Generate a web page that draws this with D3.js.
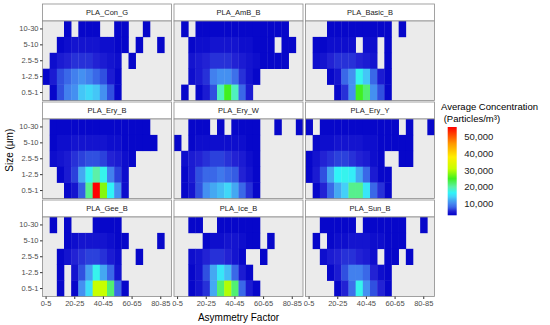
<!DOCTYPE html>
<html>
<head>
<meta charset="utf-8">
<script src="https://cdn.jsdelivr.net/npm/d3@7"></script>
<style>
  body { margin: 0; background: #fff; }
  text { font-family: "Liberation Sans", Arial, sans-serif; }
</style>
</head>
<body>
<svg width="550" height="325"></svg>
<script>
// size classes, bottom to top
const sizeBins = ["0.5-1", "1-2.5", "2.5-5", "5-10", "10-30"];
// asymmetry factor classes
const asymBins = ["0-5", "5-10", "10-15", "15-20", "20-25", "25-30", "30-35", "35-40", "40-45",
  "45-50", "50-55", "55-60", "60-65", "65-70", "70-75", "75-80", "80-85", "85-90"];
const xTicks = ["0-5", "20-25", "40-45", "60-65", "80-85"];
const legendTicks = [10000, 20000, 30000, 40000, 50000];
const panelNames = ["PLA_Con_G", "PLA_AmB_B", "PLA_Basic_B", "PLA_Ery_B", "PLA_Ery_W",
  "PLA_Ery_Y", "PLA_Gee_B", "PLA_Ice_B", "PLA_Sun_B"];

// average concentration in thousands of particles/m3
// rows go from 10-30 (top) down to 0.5-1, 0 means no tile
const conG = [
  [0,0,0,3.5,0,3.5,3.5,3.5,0,0,3.5,3.5,0,0,3.5,0,0,0],
  [0,0,3.5,4,4.5,4.5,4.5,4.5,4,4,3.5,3.5,0,3.5,0,0,3.5,0],
  [0,4,5,5.5,6,6,6,5.5,5,4.5,4,0,3.5,0,0,0,0,0],
  [3.5,5,7,8,9.5,10.5,9.5,8,7,5,3.5,0,0,0,0,0,0,0],
  [0,3.5,7,9.5,10.5,13.5,14.5,13.5,10.5,7,3.5,0,0,0,0,0,0,0]
];
const ambB = [
  [0,3.5,0,3.5,3.5,3.5,3.5,3.5,3.5,3.5,3.5,3.5,3.5,3.5,3.5,3.5,0,0],
  [0,0,3.5,4,4,4.5,4.5,4.5,4.5,4,4,3.5,3.5,3.5,0,3.5,3.5,0],
  [0,0,4.5,5,5.5,6,6,6,5.5,5,4.5,4,3.5,3.5,3.5,3.5,0,0],
  [0,0,4,5,6,9.5,10.5,10.5,8.5,6,4.5,3.5,0,0,0,0,0,0],
  [0,3.5,0,3.5,5,7,19,25,19,8,5,0,0,0,0,0,0,0]
];
const basicB = [
  [0,0,0,3.5,3.5,3.5,3.5,3.5,3.5,3.5,3.5,3.5,0,3.5,0,0,0,0],
  [0,3.5,3.5,4,4,4,4,0,4,4,0,3.5,0,0,0,0,0,0],
  [0,4,4.5,5.5,6,6,6,5.5,5,4.5,0,3.5,0,0,0,0,0,0],
  [0,0,0,3.5,4.5,8,10.5,17,13.5,8,5,3.5,0,0,0,0,0,0],
  [0,0,0,0,3.5,6,10.5,25,22,10.5,7,3.5,0,0,0,0,0,0]
];
const eryB = [
  [0,3.5,3.5,3.5,3.5,3.5,3.5,3.5,3.5,3.5,3.5,3.5,3.5,3.5,3.5,0,0,0],
  [0,3.5,4,4,4.5,4.5,4.5,4.5,4.5,4,4,3.5,3.5,3.5,3.5,3.5,0,0],
  [0,4,4.5,5,6,6.5,7,7,6.5,5.5,5,4,3.5,0,0,0,0,0],
  [0,0,3.5,5,6.5,12,17,20,17,9.5,6.5,4,0,0,0,0,0,0],
  [0,0,0,3.5,4.5,7.5,21,56,28,16.5,10.5,4,0,0,0,0,0,0]
];
const eryW = [
  [0,0,3.5,3.5,3.5,0,3.5,0,3.5,3.5,3.5,3.5,0,0,3.5,0,0,3.5],
  [3.5,0,3.5,4,4,4,4,4,4,4,3.5,3.5,0,0,0,0,0,0],
  [0,4,5,5.5,6,6.5,6.5,6,5.5,5,4,3.5,0,0,0,0,0,0],
  [0,3.5,5,7,8,8,9,8,7.5,5.5,4.5,3.5,0,0,0,0,0,0],
  [0,3.5,4.5,7,10.5,12,13,14.5,12,8,6,3.5,0,0,0,0,0,0]
];
const eryY = [
  [3.5,0,3.5,3.5,3.5,3.5,3.5,3.5,3.5,3.5,3.5,3.5,3.5,0,3.5,0,0,3.5],
  [0,3.5,4,4,4.5,4.5,4.5,4.5,4,4,3.5,3.5,3.5,3.5,3.5,0,0,0],
  [3.5,4.5,5.5,6,6.5,6.5,6,5.5,5,4,3.5,0,0,3.5,3.5,0,0,0],
  [3.5,5,7,12,16.5,17,16,12,8,5,3.5,3.5,0,0,0,0,0,0],
  [0,3.5,5.5,8,12,14,21,21,15.5,8,6,3.5,0,0,0,0,0,0]
];
const geeB = [
  [0,3.5,0,3.5,0,0,0,3.5,3.5,3.5,3.5,0,0,0,0,0,0,0],
  [0,0,0,3.5,4,4.5,4.5,4.5,4.5,4,3.5,3.5,0,0,0,0,3.5,0],
  [0,0,3.5,4.5,5.5,6,6.5,6.5,6,5,4,0,0,3.5,0,0,0,0],
  [0,0,3.5,0,4.5,7,11.5,17,12,8,4.5,0,0,0,0,0,0,0],
  [0,0,3.5,0,3.5,10.5,15,31,31,22,8,3.5,0,0,0,0,0,0]
];
const iceB = [
  [0,0,3.5,3.5,0,0,3.5,3.5,3.5,3.5,3.5,3.5,0,0,0,0,0,0],
  [0,0,0,0,3.5,4,4,4.5,4.5,4,3.5,3.5,0,3.5,0,0,0,0],
  [0,0,4,4.5,5.5,6,6,5.5,4.5,3.5,0,0,3.5,0,0,0,0,0],
  [0,0,3.5,4.5,7,12,15.5,13,8,5,3.5,0,0,0,0,0,0,0],
  [0,0,3.5,4.5,6,12,22,30,22,8,5,3.5,0,0,0,0,0,0]
];
const sunB = [
  [0,0,3.5,3.5,3.5,3.5,3.5,0,3.5,3.5,3.5,3.5,3.5,3.5,0,0,3.5,0],
  [0,3.5,0,3.5,4,4,4.5,4.5,4.5,4,4,3.5,3.5,3.5,0,0,0,0],
  [0,0,4,5,5.5,6,6,5.5,5,4,0,3.5,3.5,0,3.5,0,0,0],
  [0,0,0,3.5,5,7,9.5,9.5,8,5.5,4,3.5,0,0,0,0,0,0],
  [0,0,0,0,3.5,5.5,8.5,17,10.5,7,5.5,3.5,0,0,0,0,0,0]
];
const panelData = [conG, ambB, basicB, eryB, eryW, eryY, geeB, iceB, sunB];

const svg = d3.select("svg");

// layout of the 3x3 facets
const colX = [42.5, 174, 305.5];
const rowY = [4, 102, 200];
const stripH = 17, panelW = 129, panelH = 79.5;

const x = d3.scaleBand().domain(asymBins).range([0, panelW]);
const y = d3.scaleBand().domain(sizeBins.slice().reverse()).range([0, panelH]);

const color = d3.scaleLinear()
  .domain([3, 5.5, 7, 8, 10, 12, 14, 16.5, 20, 25, 31, 38, 46, 56])
  .range(["#0000c8", "#2222d4", "#3050e0", "#3a68e8", "#4488f0", "#44a8f2", "#44d0f8",
    "#30f4f8", "#5cf0a8", "#40f020", "#c8ff00", "#ffee00", "#ff9900", "#ff0000"])
  .clamp(true);

panelNames.forEach((name, i) => {
  const c = i % 3, r = Math.floor(i / 3);
  const g = svg.append("g").attr("transform", `translate(${colX[c]},${rowY[r]})`);

  g.append("rect")
    .attr("width", panelW).attr("height", stripH)
    .attr("fill", "#fff").attr("stroke", "#8c8c8c").attr("stroke-width", 0.8);
  g.append("text")
    .attr("x", panelW / 2).attr("y", stripH / 2 + 2.7)
    .attr("text-anchor", "middle").attr("font-size", 7.5).attr("fill", "#1a1a1a")
    .text(name);

  const p = g.append("g").attr("transform", `translate(0,${stripH})`);
  p.append("rect")
    .attr("width", panelW).attr("height", panelH)
    .attr("fill", "#ebebeb");

  const cells = [];
  panelData[i].forEach((row, ri) => {
    row.forEach((v, ci) => {
      if (v > 0) cells.push({ size: sizeBins[4 - ri], asym: asymBins[ci], value: v });
    });
  });

  p.selectAll("rect.tile")
    .data(cells)
    .enter()
    .append("rect")
    .attr("class", "tile")
    .attr("x", d => x(d.asym))
    .attr("y", d => y(d.size))
    .attr("width", x.bandwidth() + 0.3)
    .attr("height", y.bandwidth() + 0.3)
    .attr("fill", d => color(d.value));

  p.append("rect")
    .attr("width", panelW).attr("height", panelH)
    .attr("fill", "none").attr("stroke", "#8c8c8c").attr("stroke-width", 0.8);

  if (c === 0) {
    const ya = p.append("g").call(d3.axisLeft(y).tickSize(2.5).tickPadding(1.5));
    ya.select(".domain").remove();
    ya.selectAll("line").attr("stroke", "#333");
    ya.selectAll("text").attr("font-size", 7.5).attr("fill", "#4d4d4d")
      .style("font-family", '"Liberation Sans", Arial, sans-serif');
  }
  if (r === 2) {
    const xa = p.append("g")
      .attr("transform", `translate(0,${panelH})`)
      .call(d3.axisBottom(x).tickValues(xTicks).tickSize(2.5).tickPadding(1.5));
    xa.select(".domain").remove();
    xa.selectAll("line").attr("stroke", "#333");
    xa.selectAll("text").attr("font-size", 7.5).attr("fill", "#4d4d4d")
      .style("font-family", '"Liberation Sans", Arial, sans-serif');
  }
});

// axis titles
svg.append("text")
  .attr("x", (colX[0] + colX[2] + panelW) / 2).attr("y", 320.5)
  .attr("text-anchor", "middle").attr("font-size", 10).attr("fill", "#000")
  .text("Asymmetry Factor");
svg.append("text")
  .attr("transform", `translate(12.5,${(rowY[0] + rowY[2] + stripH + panelH) / 2}) rotate(-90)`)
  .attr("text-anchor", "middle").attr("font-size", 10).attr("fill", "#000")
  .text("Size (\u03bcm)");

// legend
const leg = svg.append("g");
leg.append("text").attr("x", 441).attr("y", 109.5).attr("font-size", 9.5).attr("fill", "#000")
  .text("Average Concentration");
leg.append("text").attr("x", 441).attr("y", 121.5).attr("font-size", 9.5).attr("fill", "#000")
  .text(" (Particles/m\u00b3)").attr("xml:space", "preserve");

const ly = d3.scaleLinear().domain([3000, 56000]).range([215.3, 127]);
const grad = svg.append("defs").append("linearGradient")
  .attr("id", "cbar").attr("x1", 0).attr("y1", 1).attr("x2", 0).attr("y2", 0);
color.domain().forEach((d, k) => {
  grad.append("stop")
    .attr("offset", (d * 1000 - 3000) / 53000)
    .attr("stop-color", color.range()[k]);
});
leg.append("rect")
  .attr("x", 447.7).attr("y", ly(56000))
  .attr("width", 9).attr("height", ly(3000) - ly(56000))
  .attr("fill", "url(#cbar)");
leg.selectAll("text.lab")
  .data(legendTicks)
  .enter()
  .append("text")
  .attr("class", "lab")
  .attr("x", 464.3)
  .attr("y", d => ly(d) + 3.4)
  .attr("font-size", 9.5)
  .attr("fill", "#222")
  .text(d => d3.format(",")(d));
</script>
</body>
</html>
